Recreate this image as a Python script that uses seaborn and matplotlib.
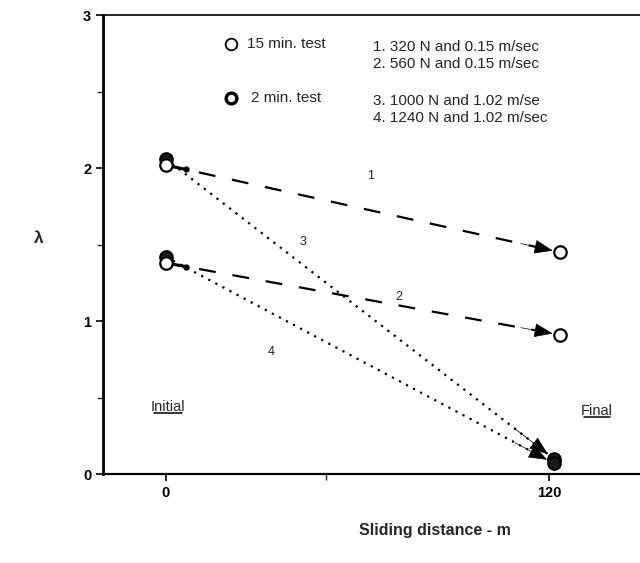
import numpy as np
import pandas as pd
import matplotlib
matplotlib.use("Agg")
import matplotlib.pyplot as plt
from matplotlib.ticker import FixedLocator
import seaborn as sns

# Test conditions and friction-regime parameter lambda before/after sliding
series = ["1", "2", "3", "4"]
duration = ["15 min", "15 min", "2 min", "2 min"]
x_initial = [0, 0, 0, 0]
x_final = [123.5, 123.5, 121.5, 121.5]
lam_initial = [2.02, 1.38, 2.06, 1.42]
lam_final = [1.45, 0.91, 0.10, 0.07]
conditions = ["1. 320 N and 0.15 m/sec", "2. 560 N and 0.15 m/sec",
              "3. 1000 N and 1.02 m/se", "4. 1240 N and 1.02 m/sec"]
label_pos_x = [64, 73, 43, 33]
label_pos_y = [1.95, 1.16, 1.52, 0.80]

sns.set_theme(style="ticks")
plt.rcParams["font.family"] = ["Liberation Sans", "DejaVu Sans"]

rows = []
for s, d, xi, xf, li, lf in zip(series, duration, x_initial, x_final, lam_initial, lam_final):
    rows.append({"series": s, "test": d, "distance": xi, "lam": li})
    rows.append({"series": s, "test": d, "distance": xf, "lam": lf})
df = pd.DataFrame(rows)

fig = plt.figure(figsize=(6.4, 5.63), dpi=100)
ax = fig.add_axes([0.161, 0.158, 0.839, 0.815])

# connecting lines: dashed for the 15 min tests, dotted for the 2 min tests
sns.lineplot(data=df, x="distance", y="lam", units="series", estimator=None,
             style="series",
             dashes={"1": (7.6, 7.6), "2": (7.6, 7.6), "3": (1, 2.6), "4": (1, 2.6)},
             color="black", linewidth=1.6, legend=False, ax=ax, zorder=2)

# arrow heads at the final state
for xi, xf, li, lf in zip(x_initial, x_final, lam_initial, lam_final):
    ax.annotate("", xy=(xf, lf), xytext=(xi + 0.9 * (xf - xi), li + 0.9 * (lf - li)),
                arrowprops=dict(arrowstyle="-|>,head_length=1.0,head_width=0.38",
                                color="black", lw=0.5, shrinkA=0, shrinkB=5.5),
                zorder=3)

# short solid tails at the start of the dashed lines
for s, xi, xf, li, lf in zip(series, x_initial, x_final, lam_initial, lam_final):
    if s in ("1", "2"):
        t = 0.05
        ax.plot([xi, xi + t * (xf - xi)], [li, li + t * (lf - li)], color="black",
                lw=2.2, solid_capstyle="round", zorder=3)
        ax.plot([xi + t * (xf - xi)], [li + t * (lf - li)], "o", color="black",
                ms=3.5, zorder=3)

# state markers
pts = pd.DataFrame({
    "distance": x_initial + x_final,
    "lam": lam_initial + lam_final,
    "test": duration + duration,
})
open_pts = pts[pts["test"] == "15 min"]
full_pts = pts[pts["test"] == "2 min"]
sns.scatterplot(data=full_pts, x="distance", y="lam", s=80, marker="o",
                facecolor="#1a1a1a", edgecolor="black", linewidth=1.6, ax=ax, zorder=4)
sns.scatterplot(data=open_pts, x="distance", y="lam", s=80, marker="o",
                facecolor="white", edgecolor="black", linewidth=1.6, ax=ax, zorder=5)

# line numbers
for s, lx, ly in zip(series, label_pos_x, label_pos_y):
    ax.text(lx, ly, s, fontsize=9, ha="center", va="center")

# state captions, underlined to the width of the text
fig.canvas.draw()
renderer = fig.canvas.get_renderer()
inv = ax.transData.inverted()
for txt, cx, cy in [("Initial", 0.5, 0.44), ("Final", 135, 0.41)]:
    t = ax.text(cx, cy, txt, fontsize=10.5, ha="center", va="center")
    bb = t.get_window_extent(renderer=renderer)
    (x0, y0), (x1, _) = inv.transform([(bb.x0, bb.y0 - 1.2), (bb.x1, bb.y0 - 1.2)])
    ax.plot([x0, x1], [y0, y0], color="black", lw=1.1)

# key in the upper part of the panel
ax.scatter([20.5], [2.81], s=70, facecolor="white", edgecolor="black", linewidth=1.3, zorder=5)
ax.text(25.5, 2.81, "15 min. test", fontsize=11, va="center")
ax.scatter([20.5], [2.46], s=60, facecolor="white", edgecolor="black", linewidth=2.4, zorder=5)
ax.text(26.5, 2.46, "2 min. test", fontsize=11, va="center")
for txt, yy in zip(conditions, [2.79, 2.68, 2.44, 2.33]):
    ax.text(65, yy, txt, fontsize=11, va="center")

ax.set_xlim(-19.7, 148.5)
ax.set_ylim(0, 3)
ax.set_xticks([0, 120])
ax.set_xticklabels(["0", "120"])
ax.xaxis.set_minor_locator(FixedLocator([50]))
ax.set_yticks([0, 1, 2, 3])
ax.yaxis.set_minor_locator(FixedLocator([0.5, 1.5, 2.5]))
ax.tick_params(axis="both", which="major", direction="out", length=5, width=1.2,
               labelsize=10.5, colors="black")
ax.tick_params(axis="both", which="minor", direction="out", length=4, width=1.0)
for lab in ax.get_yticklabels() + ax.get_xticklabels():
    lab.set_fontweight("bold")

ax.spines["left"].set_linewidth(2.0)
ax.spines["bottom"].set_linewidth(1.6)
ax.spines["top"].set_linewidth(1.2)
ax.spines["right"].set_visible(False)
for sp in ax.spines.values():
    sp.set_color("black")

ax.set_xlabel("Sliding distance - m", fontsize=11.5, fontweight="bold", va="center")
ax.xaxis.set_label_coords(0.618, -0.122)
ax.set_ylabel("λ", fontsize=12.5, rotation=0, va="center", ha="center", fontweight="bold")
ax.yaxis.set_label_coords(-0.12, 0.514)

fig.savefig("out.png", dpi=100, facecolor="white")
